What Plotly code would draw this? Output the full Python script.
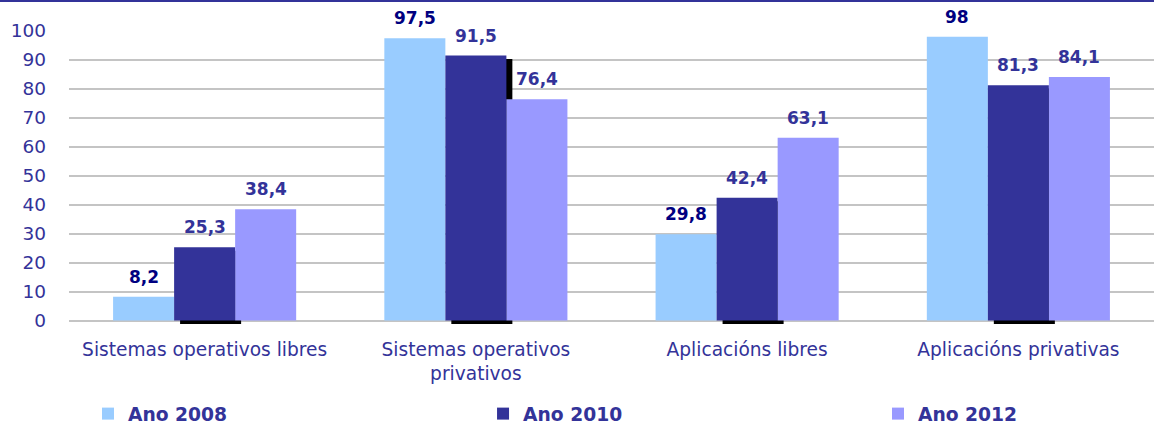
import plotly.graph_objects as go

categories = ["Sistemas operativos libres", "Sistemas operativos<br>privativos",
              "Aplicacións libres", "Aplicacións privativas"]
series_names = ["Ano 2008", "Ano 2010", "Ano 2012"]
values_2008 = [8.2, 97.5, 29.8, 98]
values_2010 = [25.3, 91.5, 42.4, 81.3]
values_2012 = [38.4, 76.4, 63.1, 84.1]
y_ticks = [0, 10, 20, 30, 40, 50, 60, 70, 80, 90, 100]

colors = ["#99CCFF", "#333399", "#9999FF"]
label_colors = ["#000080", "#333399", "#333399"]
series = [values_2008, values_2010, values_2012]

FONT = "DejaVu Sans"
idx = list(range(len(categories)))
bw = 0.225
offsets = [-1.5 * bw, -0.5 * bw, 0.5 * bw]
Y_MIN = -1.2

fig = go.Figure()

# shadow behind the 2010 bars
fig.add_trace(go.Bar(
    x=idx, y=values_2010, base=[Y_MIN] * len(idx), width=bw,
    offset=offsets[1] + 0.022, marker=dict(color="black", line=dict(width=0)),
    showlegend=False, hoverinfo="skip",
))

legend_ids = ["legend", "legend2", "legend3"]
for name, vals, col, off, lg in zip(series_names, series, colors, offsets, legend_ids):
    fig.add_trace(go.Bar(
        x=idx, y=vals, name=name, width=bw, offset=off,
        marker=dict(color=col, line=dict(width=0)), legend=lg,
    ))

annotations = []
for vals, off, lc in zip(series, offsets, label_colors):
    for i, v in zip(idx, vals):
        annotations.append(dict(
            x=i + off + bw / 2, y=v, xref="x", yref="y",
            text=f"{v:g}".replace(".", ","), showarrow=False,
            yanchor="middle", yshift=20,
            font=dict(family=FONT, size=17, color=lc, weight="bold"),
        ))

legend_style = dict(
    orientation="h", xanchor="left", y=-0.307, yanchor="middle",
    font=dict(size=18.7, color="#333399", weight="bold", family=FONT),
    itemwidth=30, bgcolor="rgba(0,0,0,0)",
)

fig.update_layout(
    width=1154, height=426,
    margin=dict(l=69, r=0, t=31, b=102, autoexpand=False),
    paper_bgcolor="white", plot_bgcolor="white",
    barmode="overlay",
    font=dict(family=FONT, color="#333399"),
    xaxis=dict(
        tickmode="array", tickvals=idx, ticktext=categories,
        range=[-0.5, 3.5], showgrid=False, showline=False, zeroline=False,
        tickfont=dict(size=18.6, color="#333399"), ticks="", ticklabelstandoff=12,
        automargin=False,
    ),
    yaxis=dict(
        range=[Y_MIN, 100], tickvals=y_ticks, showgrid=True,
        gridcolor="#c4c4c4", gridwidth=2, zeroline=False,
        showline=False, ticks="",
        tickfont=dict(size=18.5, color="#333399"), ticklabelstandoff=22,
        automargin=False,
    ),
    legend=dict(x=0.0175, **legend_style),
    legend2=dict(x=0.3816, **legend_style),
    legend3=dict(x=0.7456, **legend_style),
    annotations=annotations,
    shapes=[dict(type="line", xref="paper", yref="paper",
                 x0=-69 / 1085, x1=1, y0=1 + 30 / 293, y1=1 + 30 / 293,
                 line=dict(color="#333399", width=2))],
)

fig.write_html(
    "out.html",
    config={"displayModeBar": False},
    post_script="document.body.style.margin='0';document.body.style.overflow='hidden';",
)
